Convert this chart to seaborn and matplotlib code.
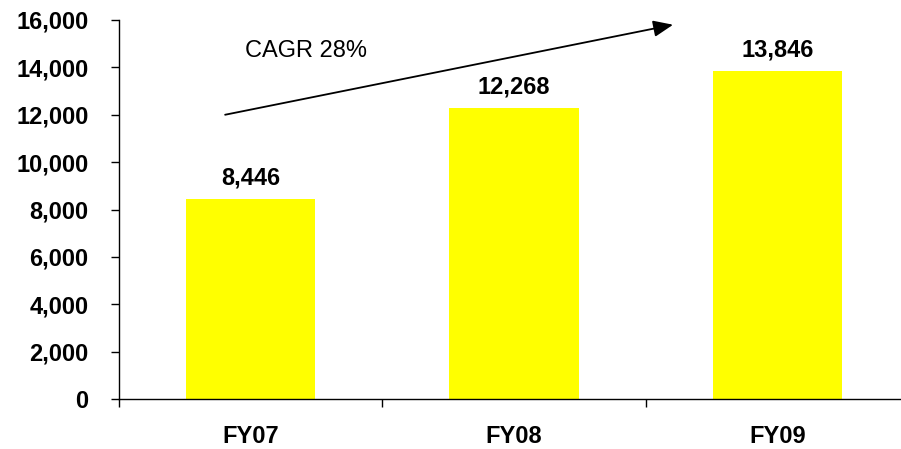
import matplotlib
matplotlib.use("Agg")
import matplotlib.pyplot as plt
import seaborn as sns
import pandas as pd

categories = ["FY07", "FY08", "FY09"]
values = [8446, 12268, 13846]
yticks = [0, 2000, 4000, 6000, 8000, 10000, 12000, 14000, 16000]
cagr_text = "CAGR 28%"

sns.set_style("ticks", {"text.color": "black", "xtick.color": "black",
                        "ytick.color": "black", "axes.edgecolor": "black",
                        "axes.labelcolor": "black"})
plt.rcParams['font.family'] = ['Liberation Sans', 'DejaVu Sans']

df = pd.DataFrame({"year": categories, "value": values})

fig = plt.figure(figsize=(9.01, 4.49), dpi=100)
W, H = 901, 449
ax = fig.add_axes([119 / W, 50 / H, 790 / W, 379 / H])

sns.barplot(data=df, x="year", y="value", color="#FFFF00", saturation=1,
            width=0.49, ax=ax, edgecolor="none")

ax.set_xlim(-0.5, 2.5)
ax.set_ylim(0, 16000)
ax.set_yticks(yticks)
ax.set_yticklabels([f"{v:,}" for v in yticks], fontsize=17, fontweight="bold")
ax.set_xlabel("")
ax.set_ylabel("")

# x ticks at category boundaries
ax.set_xticks([-0.5, 0.5, 1.5], minor=False)
ax.set_xticklabels([])
ax.set_xticks([0, 1, 2], minor=True)
ax.set_xticklabels(categories, minor=True, fontsize=17, fontweight="bold")
ax.tick_params(axis="x", which="major", bottom=True, direction="out", length=6, width=1, color="black")
ax.tick_params(axis="x", which="minor", bottom=True, length=0, pad=19)
ax.tick_params(axis="y", left=True, direction="out", length=6, width=1, color="black", pad=16)

for s in ["top", "right"]:
    ax.spines[s].set_visible(False)
for s in ["left", "bottom"]:
    ax.spines[s].set_color("black")
    ax.spines[s].set_linewidth(1)

for i, v in enumerate(values):
    ax.annotate(f"{v:,}", (i, v), xytext=(0, 10.5), textcoords="offset points",
                ha="center", va="baseline", fontsize=17, fontweight="bold")

ax.annotate("", xy=(1.604, 15800), xytext=(-0.097, 12000),
            arrowprops=dict(arrowstyle="-|>,head_length=1.2,head_width=0.5",
                            color="black", lw=1.3, shrinkA=0, shrinkB=0))
ax.text(-0.021, 14680, cagr_text, fontsize=17, ha="left", va="center")

fig.savefig("out.png", dpi=100)
